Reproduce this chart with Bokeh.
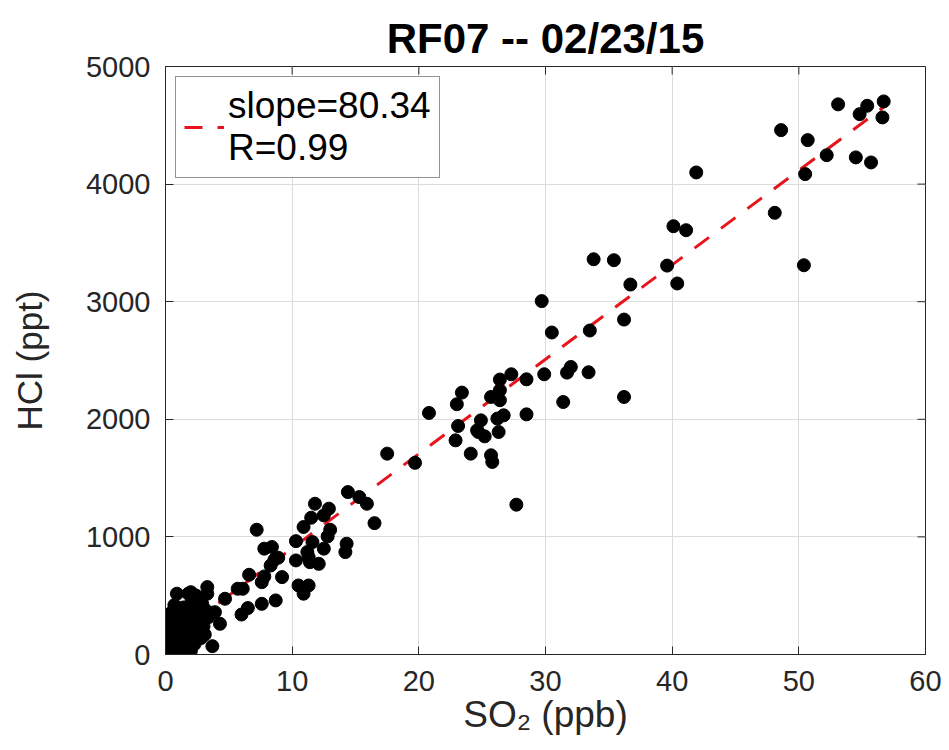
from bokeh.plotting import figure
from bokeh.models import Range1d, FixedTicker, Legend, LegendItem, ColumnDataSource
from bokeh.embed import file_html
from bokeh.resources import INLINE

title_text = "RF07 -- 02/23/15"
x_label = "SO₂ (ppb)"
y_label = "HCl (ppt)"
x_ticks = [0, 10, 20, 30, 40, 50, 60]
y_ticks = [0, 1000, 2000, 3000, 4000, 5000]
fit_slope = 80.34
fit_intercept = 100
fit_r = 0.99

so2 = [
    53.1, 54.8, 55.4, 56.7, 56.6, 48.6, 50.7, 52.2, 54.5, 55.7, 41.9, 50.5, 48.1, 40.1, 41.1,
    33.8, 35.4, 50.4, 39.6, 36.7, 40.4, 36.2, 33.5, 30.5, 32.0, 31.7, 33.4, 36.2, 31.4, 29.7,
    27.3, 28.5, 29.9, 26.4, 26.4, 23.4, 25.7, 26.4, 23.0, 20.8, 28.5, 26.7, 26.2, 24.9, 23.1,
    24.6, 25.2, 26.3, 24.7, 22.9, 24.1, 25.7, 25.8, 17.5, 19.7, 27.7, 14.4, 15.3, 15.9, 16.5,
    11.8, 12.9, 11.5, 12.5, 10.9, 13.0, 12.8, 10.3, 11.6, 14.3, 14.2, 12.5,
    7.2, 7.8, 8.4, 11.2, 10.3, 11.3, 12.1, 11.4, 8.6, 8.9, 8.3, 6.6, 7.8, 7.6, 9.2, 6.1,
    10.5, 11.3, 10.9, 7.6, 8.7, 6.0, 6.5, 5.7, 4.7, 3.3, 3.3, 0.9, 2.0, 2.5, 3.9, 4.3, 3.7,
    3.2, 3.4, 2.9, 1.8, 2.4,
    0.1, 0.2, 0.3, 0.1, 0.4, 0.2, 0.5, 0.6, 0.3, 0.5, 0.7, 0.8, 0.9, 1.0, 1.1, 0.6, 0.8,
    1.2, 1.3, 1.4, 1.5, 1.0, 1.2, 1.6, 1.7, 1.8, 1.9, 2.0, 2.1, 2.2, 2.3, 2.4, 2.5, 1.4,
    1.7, 2.6, 2.7, 2.8, 2.9, 3.0, 0.2, 0.4, 0.1, 0.0, 0.5, 0.9, 1.1, 1.5, 2.0, 1.3, 0.7,
    1.9, 2.2, 2.6, 3.1, 0.3, 0.6, 0.9, 1.6, 2.4,
]
hcl = [
    4678, 4595, 4666, 4703, 4567, 4459, 4374, 4246, 4227, 4184, 4099, 4085, 3756, 3642, 3608,
    3361, 3353, 3310, 3307, 3146, 3155, 2848, 2755, 2738, 2445, 2397, 2400, 2190, 2147, 3005,
    2383, 2340, 2383, 2338, 2247, 2227, 2190, 2162, 2128, 2054, 2042, 2034, 2006, 1991, 1943,
    1906, 1855, 1892, 1892, 1821, 1708, 1694, 1637, 1708, 1630, 1274, 1381, 1339, 1282, 1117,
    1282, 1240, 1163, 1183, 1084, 1061, 1004, 964, 956, 942, 871, 900,
    1061, 900, 914, 871, 800, 828, 771, 785, 806, 823, 757, 678, 664, 615, 658, 559,
    587, 587, 517, 431, 460, 340, 395, 559, 474, 573, 517, 517, 530, 488, 360, 261, 71,
    374, 318, 431, 517, 502,
    20, 60, 10, 110, 140, 180, 90, 30, 230, 260, 200, 120, 60, 170, 240, 310, 290,
    90, 150, 210, 280, 330, 360, 120, 60, 190, 250, 310, 160, 230, 90, 280, 350, 400,
    370, 200, 260, 140, 320, 240, 300, 350, 250, 80, 20, 380, 20, 40, 30, 300, 420,
    420, 400, 420, 170, 130, 160, 240, 330, 120,
]

FONT = "Liberation Sans"
AX = "#262626"

p = figure(width=949, height=750, x_range=Range1d(0, 60), y_range=Range1d(0, 5000),
           output_backend="svg", toolbar_location=None,
           min_border_left=165, min_border_right=24, min_border_top=66, min_border_bottom=96)
p.background_fill_color = "white"
p.border_fill_color = "white"
p.outline_line_color = AX
p.outline_line_width = 1

p.title.text = title_text
p.title.align = "center"
p.title.text_font = FONT
p.title.text_font_size = "42px"
p.title.text_font_style = "bold"
p.title.text_color = "black"
p.title.standoff = 10

for ax in (p.xaxis[0], p.yaxis[0]):
    ax.major_tick_in = 8
    ax.major_tick_out = 0
    ax.minor_tick_line_color = None
    ax.axis_line_color = AX
    ax.major_tick_line_color = AX
    ax.major_label_text_font = FONT
    ax.major_label_text_font_size = "29px"
    ax.major_label_text_color = AX
    ax.axis_label_text_font = FONT
    ax.axis_label_text_font_style = "normal"
    ax.axis_label_text_color = AX

p.xaxis[0].ticker = FixedTicker(ticks=x_ticks)
p.yaxis[0].ticker = FixedTicker(ticks=y_ticks)
p.xaxis[0].axis_label = x_label
p.yaxis[0].axis_label = y_label
p.xaxis[0].axis_label_text_font_size = "37px"
p.yaxis[0].axis_label_text_font_size = "35px"
p.xaxis[0].major_label_standoff = 16
p.xaxis[0].axis_label_standoff = 0
p.yaxis[0].major_label_standoff = 15
p.yaxis[0].axis_label_standoff = 34

p.xgrid.ticker = FixedTicker(ticks=x_ticks)
p.ygrid.ticker = FixedTicker(ticks=y_ticks)
p.grid.grid_line_color = "#dcdcdc"
p.grid.grid_line_width = 1

# inward ticks on the top and right edges of the box (8 px long)
tick_dx = 60 / 760 * 8
tick_dy = 5000 / 588 * 8
p.segment(x0=x_ticks, y0=[5000] * len(x_ticks), x1=x_ticks, y1=[5000 - tick_dy] * len(x_ticks),
          line_color=AX, line_width=1)
p.segment(x0=[60] * len(y_ticks), y0=y_ticks, x1=[60 - tick_dx] * len(y_ticks), y1=y_ticks,
          line_color=AX, line_width=1)

fx = [min(so2), max(so2)]
fy = [fit_slope * v + fit_intercept for v in fx]
fit = p.line(fx, fy, line_color="#e8141c", line_width=3, line_dash="18 15")

src = ColumnDataSource(data=dict(x=so2, y=hcl))
p.scatter("x", "y", source=src, size=13, marker="circle", fill_color="black", line_color="black")

legend = Legend(items=[LegendItem(label="slope=%.2f\nR=%.2f" % (fit_slope, fit_r), renderers=[fit])],
                location="top_left", margin=10, padding=8, spacing=0,
                glyph_width=40, glyph_height=30, label_standoff=4,
                label_text_font=FONT, label_text_font_size="37px", label_text_color="black",
                label_text_line_height=1.0,
                border_line_color="#262626", border_line_width=1,
                background_fill_color="white", background_fill_alpha=1.0)
p.add_layout(legend)

open("out.html", "w").write(file_html(p, INLINE))
